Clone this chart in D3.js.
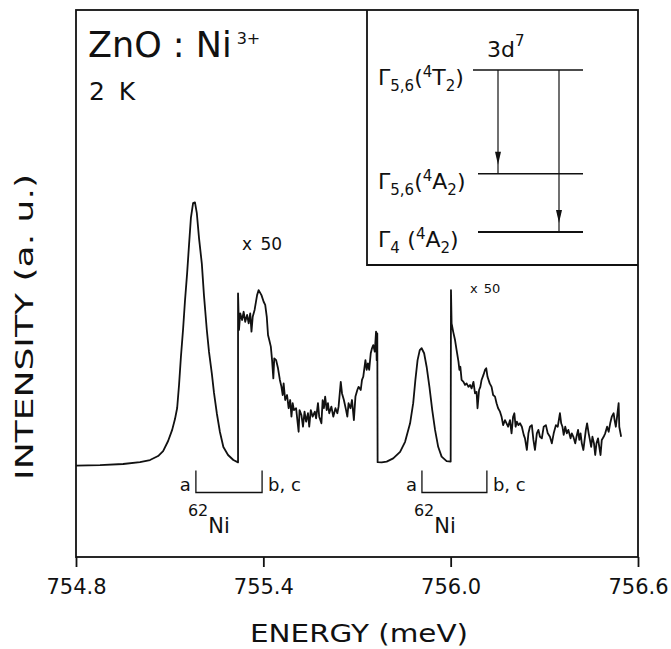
<!DOCTYPE html>
<html>
<head>
<meta charset="utf-8">
<script src="https://cdn.jsdelivr.net/npm/d3@7"></script>
<style>
  body { margin: 0; background: #fff; }
  svg text { font-family: "DejaVu Sans", sans-serif; fill: #111; }
</style>
</head>
<body>
<svg id="chart"></svg>
<script>
const width = 671, height = 649;

// energy (meV), intensity (a. u., strong line = 100)
const peakA = [
  [754.800, -0.4], [754.877, -0.2], [754.951, 0.2], [755.005, 0.9], [755.037, 1.7],
  [755.063, 3.2], [755.079, 5.1], [755.095, 8.9], [755.108, 13.1], [755.117, 17.2],
  [755.124, 21.4], [755.130, 30.1], [755.136, 40.7], [755.143, 51.3], [755.149, 61.9],
  [755.156, 72.5], [755.162, 83.1], [755.168, 93.3], [755.175, 98.9], [755.181, 99.2],
  [755.187, 95.1], [755.194, 85.7], [755.203, 76.0], [755.210, 63.8], [755.219, 50.9],
  [755.226, 42.6], [755.235, 34.5], [755.242, 27.1], [755.251, 19.4], [755.261, 12.3],
  [755.272, 6.6], [755.287, 3.6], [755.304, 1.7], [755.319, 0.8]
];

// x 50
const tailA = [
  [755.319, 64.8], [755.322, 50.9], [755.326, 57.2], [755.332, 54.7], [755.337, 57.8],
  [755.342, 54.0], [755.348, 56.6], [755.353, 53.4], [755.358, 57.2], [755.362, 50.3],
  [755.366, 55.9], [755.372, 58.5], [755.380, 64.1], [755.385, 66.0], [755.394, 64.1],
  [755.401, 61.6], [755.406, 60.4], [755.411, 55.9], [755.415, 49.0], [755.419, 47.1],
  [755.424, 44.6], [755.428, 39.5], [755.432, 32.6], [755.435, 40.2], [755.441, 39.5],
  [755.447, 36.4], [755.453, 32.0], [755.458, 29.4], [755.462, 26.3], [755.465, 30.7],
  [755.470, 24.4], [755.476, 26.3], [755.481, 21.3], [755.486, 24.4], [755.490, 18.1],
  [755.494, 23.2], [755.498, 20.6], [755.505, 21.3], [755.509, 16.8], [755.513, 12.4],
  [755.516, 20.6], [755.522, 18.7], [755.527, 14.3], [755.532, 20.0], [755.537, 16.2],
  [755.543, 19.4], [755.547, 14.3], [755.552, 20.6], [755.558, 18.1], [755.565, 20.0],
  [755.569, 17.5], [755.575, 23.2], [755.579, 18.1], [755.586, 15.6], [755.590, 24.4],
  [755.594, 21.3], [755.598, 25.7], [755.603, 20.6], [755.607, 23.2], [755.611, 19.4],
  [755.618, 21.9], [755.624, 18.1], [755.631, 21.3], [755.637, 19.4], [755.641, 21.9],
  [755.648, 31.3], [755.652, 26.9], [755.658, 24.4], [755.665, 20.6], [755.669, 18.1],
  [755.673, 23.2], [755.679, 21.3], [755.684, 24.4], [755.690, 16.8], [755.695, 25.7],
  [755.701, 28.2], [755.705, 29.4], [755.712, 28.2], [755.716, 32.0], [755.720, 33.2],
  [755.727, 39.5], [755.731, 35.8], [755.735, 38.3], [755.739, 35.8], [755.744, 42.1],
  [755.748, 44.0], [755.752, 45.2], [755.757, 42.7], [755.761, 50.3], [755.763, 39.5],
  [755.765, 49.6]
];

const peakB = [
  [755.766, 0.9], [755.779, 0.8], [755.795, 1.1], [755.816, 2.3], [755.838, 4.8],
  [755.854, 8.6], [755.870, 15.6], [755.880, 23.2], [755.887, 32.0], [755.894, 39.5],
  [755.901, 43.3], [755.907, 44.0], [755.915, 42.1], [755.923, 37.0], [755.932, 29.4],
  [755.941, 20.6], [755.950, 13.1], [755.960, 6.7], [755.971, 3.0], [755.987, 1.3],
  [756.000, 1.1]
];

// x 50
const tailB = [
  [756.001, 66.0], [756.003, 53.4], [756.008, 50.3], [756.014, 47.1], [756.019, 43.3],
  [756.025, 38.9], [756.028, 35.8], [756.031, 37.0], [756.035, 32.0], [756.041, 31.3],
  [756.046, 30.1], [756.051, 30.7], [756.057, 29.4], [756.062, 30.1], [756.067, 28.8],
  [756.073, 31.3], [756.078, 26.9], [756.083, 27.5], [756.086, 21.3], [756.091, 28.2],
  [756.095, 29.4], [756.099, 32.0], [756.105, 33.9], [756.110, 35.8], [756.114, 36.4],
  [756.118, 33.2], [756.125, 30.7], [756.131, 29.4], [756.136, 26.3], [756.142, 25.7],
  [756.147, 23.2], [756.152, 21.3], [756.158, 20.0], [756.163, 18.1], [756.168, 14.9],
  [756.174, 16.8], [756.179, 15.6], [756.184, 14.3], [756.190, 16.8], [756.195, 11.8],
  [756.200, 18.1], [756.204, 19.4], [756.208, 14.3], [756.212, 16.2], [756.217, 14.9],
  [756.222, 15.6], [756.228, 14.3], [756.234, 11.2], [756.238, 9.9], [756.244, 5.5],
  [756.249, 11.8], [756.254, 14.3], [756.260, 14.9], [756.265, 9.3], [756.270, 5.5],
  [756.276, 11.8], [756.281, 13.1], [756.286, 10.5], [756.292, 9.9], [756.298, 14.3],
  [756.305, 14.9], [756.311, 11.8], [756.318, 10.5], [756.324, 8.0], [756.330, 11.8],
  [756.337, 14.9], [756.343, 14.3], [756.350, 19.4], [756.354, 15.6], [756.358, 14.3],
  [756.362, 11.2], [756.367, 14.3], [756.372, 11.8], [756.377, 13.1], [756.384, 9.9],
  [756.388, 11.8], [756.393, 10.5], [756.399, 8.0], [756.403, 10.5], [756.408, 13.1],
  [756.412, 9.3], [756.416, 11.8], [756.420, 8.0], [756.425, 5.5], [756.429, 9.3],
  [756.433, 13.1], [756.437, 15.6], [756.442, 11.8], [756.446, 9.3], [756.450, 6.7],
  [756.454, 10.5], [756.459, 8.0], [756.463, 3.6], [756.467, 8.0], [756.472, 9.9],
  [756.476, 6.7], [756.480, 3.6], [756.484, 9.3], [756.490, 10.5], [756.495, 11.8],
  [756.501, 14.3], [756.506, 12.4], [756.511, 15.6], [756.516, 18.1], [756.522, 19.4],
  [756.525, 16.8], [756.529, 14.3], [756.533, 18.1], [756.538, 23.2], [756.540, 14.3],
  [756.544, 11.8], [756.546, 10.5]
];

const energyTicks = [754.8, 755.4, 756.0, 756.6];

// 62Ni isotope brackets: a and b,c positions (meV)
const isotopeMarks = [[755.184, 755.396], [755.908, 756.116]];

// level scheme of 3d7, relative height
const levelNames = ["4T2", "4A2", "4A2"];
const levelGamma = ["5,6", "5,6", "4"];
const levelHeight = [1, 0.36, 0];

const svg = d3.select("#chart")
    .attr("width", width)
    .attr("height", height);

const x = d3.scaleLinear()
    .domain([754.8, 756.6])
    .range([76, 638]);

const y = d3.scaleLinear()
    .domain([-35, 172])
    .range([557, 10]);

// frame
svg.append("rect")
    .attr("x", x(754.8))
    .attr("y", y(172))
    .attr("width", x(756.6) - x(754.8))
    .attr("height", y(-35) - y(172))
    .attr("fill", "none")
    .attr("stroke", "#111")
    .attr("stroke-width", 1.8);

let xAxis = svg.append("g")
    .attr("transform", "translate(0," + y(-35) + ")")
    .call(d3.axisBottom(x)
        .tickValues(energyTicks)
        .tickSize(10)
        .tickPadding(12)
        .tickFormat(d3.format(".1f")));

xAxis.select(".domain").remove();
xAxis.selectAll("line").attr("stroke", "#111").attr("stroke-width", 1.8);
xAxis.selectAll("text")
    .style("font-family", "'DejaVu Sans', sans-serif")
    .style("font-size", "21px")
    .attr("fill", "#111");

// spectrum
const spectrum = peakA.concat(tailA, peakB, tailB);

const line = d3.line()
    .x(function (d) { return x(d[0]); })
    .y(function (d) { return y(d[1]); });

svg.append("path")
    .datum(spectrum)
    .attr("d", line)
    .attr("fill", "none")
    .attr("stroke", "#111")
    .attr("stroke-width", 1.8)
    .attr("stroke-linejoin", "round");

// titles
svg.append("text")
    .attr("x", 359)
    .attr("y", 642)
    .attr("text-anchor", "middle")
    .attr("textLength", 218)
    .attr("lengthAdjust", "spacingAndGlyphs")
    .style("font-size", "24px")
    .text("ENERGY (meV)");

svg.append("text")
    .attr("transform", "translate(33,327) rotate(-90)")
    .attr("text-anchor", "middle")
    .attr("textLength", 306)
    .attr("lengthAdjust", "spacingAndGlyphs")
    .style("font-size", "25px")
    .text("INTENSITY (a. u.)");

let title = svg.append("text")
    .attr("x", 88)
    .attr("y", 57)
    .style("font-size", "35px");
title.append("tspan").text("ZnO : Ni");
title.append("tspan")
    .attr("dx", 5)
    .attr("dy", -13)
    .style("font-size", "16px")
    .text("3+");

svg.append("text")
    .attr("x", 89)
    .attr("y", 100)
    .style("font-size", "25px")
    .style("word-spacing", "6px")
    .text("2 K");

svg.append("text")
    .attr("x", 242)
    .attr("y", 250)
    .style("font-size", "17px")
    .style("word-spacing", "3px")
    .text("x 50");

svg.append("text")
    .attr("x", 470)
    .attr("y", 293)
    .style("font-size", "13px")
    .style("word-spacing", "2px")
    .text("x 50");

// isotope brackets
let marks = svg.selectAll(".iso")
    .data(isotopeMarks)
    .enter().append("g")
    .attr("class", "iso");

marks.append("path")
    .attr("d", function (d) {
        return "M" + x(d[0]) + "," + (y(0) + 6) + "V" + (y(0) + 28) +
            "H" + x(d[1]) + "V" + (y(0) + 6);
    })
    .attr("fill", "none")
    .attr("stroke", "#111")
    .attr("stroke-width", 1.3);

marks.append("text")
    .attr("x", function (d) { return x(d[0]) - 5; })
    .attr("y", y(0) + 26)
    .attr("text-anchor", "end")
    .style("font-size", "18px")
    .text("a");

marks.append("text")
    .attr("x", function (d) { return x(d[1]) + 6; })
    .attr("y", y(0) + 26)
    .style("font-size", "18px")
    .text("b, c");

let iso = marks.append("text")
    .attr("x", function (d) { return x(d[0]) - 8; })
    .attr("y", y(0) + 51)
    .style("font-size", "16px");
iso.append("tspan").text("62");
iso.append("tspan")
    .attr("dy", 17)
    .style("font-size", "21px")
    .text("Ni");

// inset: level scheme
const inset = svg.append("g");
const ly = d3.scaleLinear().domain([0, 1]).range([232, 70]);

inset.append("path")
    .attr("d", "M367," + y(172) + "V265H" + x(756.6))
    .attr("fill", "none")
    .attr("stroke", "#111")
    .attr("stroke-width", 1.8);

inset.selectAll(".level")
    .data(levelHeight)
    .enter().append("line")
    .attr("class", "level")
    .attr("x1", function (d, i) { return i === 0 ? 473 : 478; })
    .attr("x2", 583)
    .attr("y1", function (d) { return ly(d); })
    .attr("y2", function (d) { return ly(d); })
    .attr("stroke", "#111")
    .attr("stroke-width", function (d, i) { return i === 2 ? 2 : 1.4; });

let lab = inset.selectAll(".lab")
    .data(levelHeight)
    .enter().append("text")
    .attr("class", "lab")
    .attr("x", 378)
    .attr("y", function (d) { return ly(d) + 15; })
    .style("font-size", "22px");

lab.append("tspan").text("\u0393");
lab.append("tspan")
    .attr("dy", 6)
    .style("font-size", "15px")
    .text(function (d, i) { return levelGamma[i] + (i === 2 ? "\u2002" : ""); });
lab.append("tspan").attr("dy", -6).text("(");
lab.append("tspan")
    .attr("dy", -8)
    .style("font-size", "15px")
    .text(function (d, i) { return levelNames[i][0]; });
lab.append("tspan")
    .attr("dy", 8)
    .text(function (d, i) { return levelNames[i][1]; });
lab.append("tspan")
    .attr("dy", 6)
    .style("font-size", "15px")
    .text(function (d, i) { return levelNames[i][2]; });
lab.append("tspan").attr("dy", -6).text(")");

let conf = inset.append("text")
    .attr("x", 487)
    .attr("y", 57)
    .style("font-size", "22px");
conf.append("tspan").text("3d");
conf.append("tspan")
    .attr("dy", -11)
    .style("font-size", "15px")
    .text("7");

// transitions
const transitions = [[0, 1, 498], [0, 2, 559]];

inset.selectAll(".tr")
    .data(transitions)
    .enter().append("line")
    .attr("class", "tr")
    .attr("x1", function (d) { return d[2]; })
    .attr("x2", function (d) { return d[2]; })
    .attr("y1", function (d) { return ly(levelHeight[d[0]]); })
    .attr("y2", function (d) { return ly(levelHeight[d[1]]); })
    .attr("stroke", "#111")
    .attr("stroke-width", 1.2);

inset.selectAll(".head")
    .data(transitions)
    .enter().append("path")
    .attr("class", "head")
    .attr("d", function (d) {
        const tip = ly(levelHeight[d[1]]) - 9;
        return "M" + d[2] + "," + tip + "L" + (d[2] - 3) + "," + (tip - 13) +
            "L" + (d[2] + 3) + "," + (tip - 13) + "Z";
    })
    .attr("fill", "#111");
</script>
</body>
</html>
